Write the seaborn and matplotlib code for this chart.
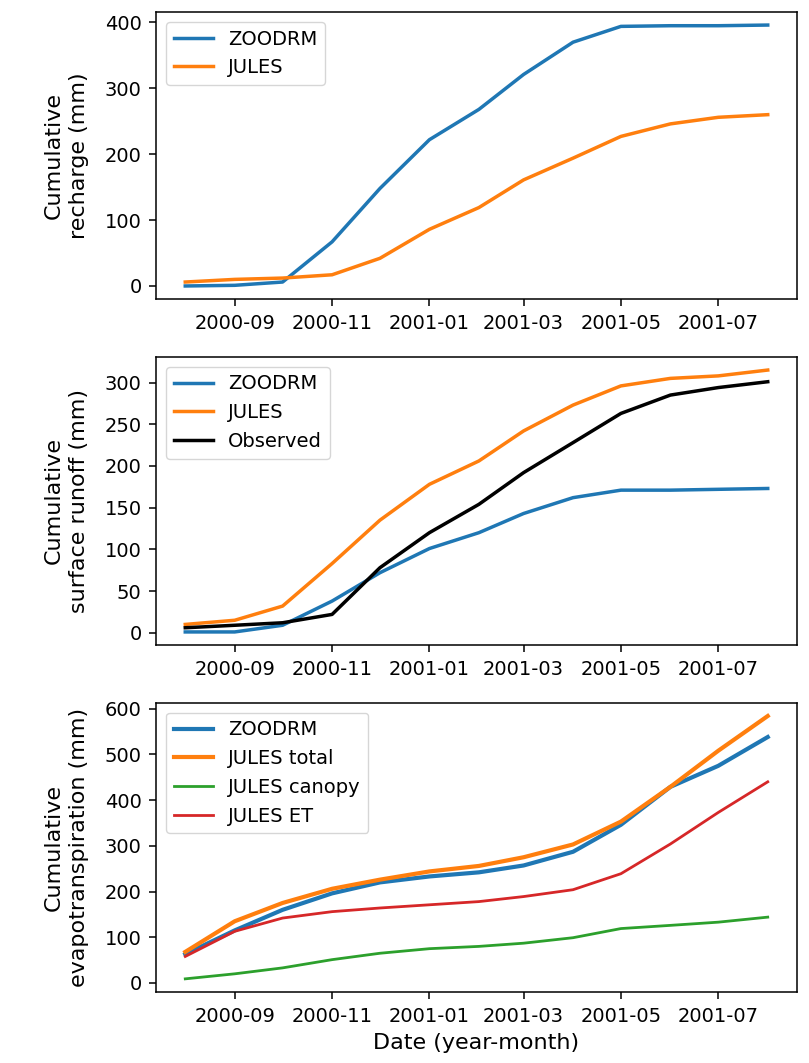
import pandas as pd
import numpy as np
import matplotlib
matplotlib.use("Agg")
import matplotlib.pyplot as plt
import matplotlib.dates as mdates
import seaborn as sns

dates = pd.date_range("2000-08-01", "2001-08-01", freq="MS")

# cumulative recharge (mm)
rech_zoodrm = [0, 1, 6, 67, 148, 222, 268, 321, 370, 394, 395, 395, 396]
rech_jules = [6, 10, 12, 17, 42, 86, 119, 161, 194, 227, 246, 256, 260]

# cumulative surface runoff (mm)
run_zoodrm = [1, 1, 9, 38, 72, 101, 120, 143, 162, 171, 171, 172, 173]
run_jules = [10, 15, 32, 83, 135, 178, 206, 242, 273, 296, 305, 308, 315]
run_obs = [6, 9, 12, 22, 78, 120, 154, 192, 228, 263, 285, 294, 301]

# cumulative evapotranspiration (mm)
et_zoodrm = [63, 115, 160, 196, 220, 233, 242, 257, 287, 346, 429, 475, 538]
et_jules_total = [68, 135, 175, 206, 226, 244, 256, 275, 303, 353, 429, 508, 584]
et_jules_canopy = [9, 20, 33, 51, 65, 75, 80, 87, 99, 119, 126, 133, 144]
et_jules_et = [58, 113, 142, 156, 164, 171, 178, 189, 204, 239, 304, 373, 440]

blue, orange, green, red = "#1f77b4", "#ff7f0e", "#2ca02c", "#d62728"

plt.rcParams["axes.linewidth"] = 1.1

fig = plt.figure(figsize=(8.09, 10.63), dpi=100)
ax1 = fig.add_axes([0.193, 0.7187, 0.792, 0.270])
ax2 = fig.add_axes([0.193, 0.3932, 0.792, 0.271])
ax3 = fig.add_axes([0.193, 0.0668, 0.792, 0.272])

sns.lineplot(x=dates, y=rech_zoodrm, ax=ax1, color=blue, lw=2.5, label="ZOODRM")
sns.lineplot(x=dates, y=rech_jules, ax=ax1, color=orange, lw=2.5, label="JULES")
ax1.set_ylabel("Cumulative\nrecharge (mm)")

sns.lineplot(x=dates, y=run_zoodrm, ax=ax2, color=blue, lw=2.5, label="ZOODRM")
sns.lineplot(x=dates, y=run_jules, ax=ax2, color=orange, lw=2.5, label="JULES")
sns.lineplot(x=dates, y=run_obs, ax=ax2, color="black", lw=2.5, label="Observed")
ax2.set_ylabel("Cumulative\nsurface runoff (mm)")

sns.lineplot(x=dates, y=et_zoodrm, ax=ax3, color=blue, lw=3, label="ZOODRM")
sns.lineplot(x=dates, y=et_jules_total, ax=ax3, color=orange, lw=3, label="JULES total")
sns.lineplot(x=dates, y=et_jules_canopy, ax=ax3, color=green, lw=2, label="JULES canopy")
sns.lineplot(x=dates, y=et_jules_et, ax=ax3, color=red, lw=2, label="JULES ET")
ax3.set_ylabel("Cumulative\nevapotranspiration (mm)")
ax3.set_xlabel("Date (year-month)", fontsize=16, labelpad=5)

for ax in (ax1, ax2, ax3):
    ax.yaxis.label.set_fontsize(16)
    ax.yaxis.label.set_linespacing(1.35)
    ax.yaxis.labelpad = 11
    ax.xaxis.set_major_locator(mdates.MonthLocator(bymonth=[1, 3, 5, 7, 9, 11]))
    ax.xaxis.set_major_formatter(mdates.DateFormatter("%Y-%m"))
    ax.tick_params(labelsize=14, length=5, width=1.1, pad=5.5)
    ax.legend(loc="upper left", fontsize=14)
    if ax is not ax3:
        ax.set_xlabel("")

fig.savefig("out.png", dpi=100)
